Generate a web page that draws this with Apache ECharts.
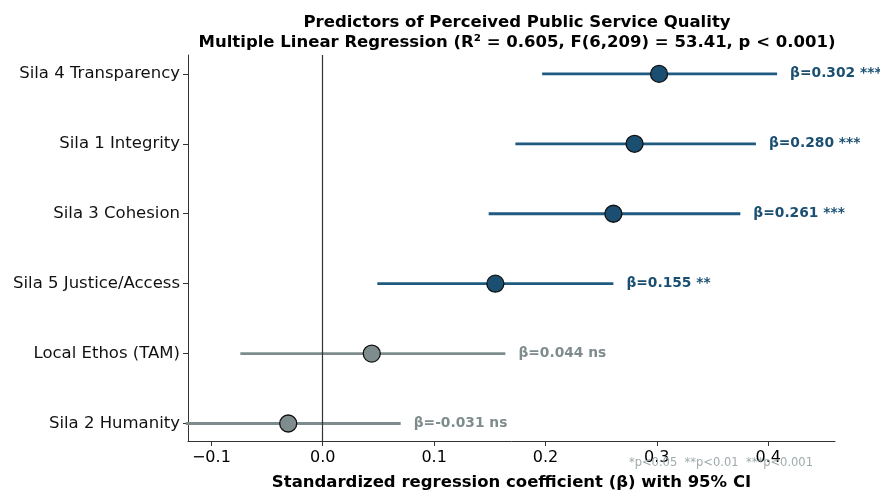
<!DOCTYPE html>
<html>
<head>
<meta charset="utf-8">
<script src="https://cdn.jsdelivr.net/npm/echarts@6/dist/echarts.min.js"></script>
<style>
html, body { margin: 0; padding: 0; background: #fff; }
#chart { width: 880px; height: 492px; }
</style>
</head>
<body>
<div id="chart"></div>
<script>
// rows from bottom (y=0) to top (y=5)
var predictors = ['Sila 2 Humanity', 'Local Ethos (TAM)', 'Sila 5 Justice/Access', 'Sila 3 Cohesion', 'Sila 1 Integrity', 'Sila 4 Transparency'];
var beta = [-0.031, 0.044, 0.155, 0.261, 0.280, 0.302];
var ciLow = [-0.123, -0.074, 0.049, 0.149, 0.173, 0.197];
var ciHigh = [0.070, 0.164, 0.261, 0.375, 0.389, 0.408];
var stars = ['ns', 'ns', '**', '***', '***', '***'];
var xTicks = [-0.1, 0.0, 0.1, 0.2, 0.3, 0.4];

var FONT = 'DejaVu Sans';
var BLUE = '#1b4f72';
var BLUE_LINE = '#1f5a80';
var GREY = '#7f8c8d';

function colorOf(i) { return stars[i] === 'ns' ? GREY : BLUE; }

var rows = predictors.map(function (p, i) {
    return [beta[i], i, ciLow[i], ciHigh[i]];
});

var chart = echarts.init(document.getElementById('chart'));
var option = {
    animation: false,
    title: {
        text: 'Predictors of Perceived Public Service Quality\nMultiple Linear Regression (R² = 0.605, F(6,209) = 53.41, p < 0.001)',
        left: 512,
        top: 8,
        textAlign: 'center',
        textStyle: { fontFamily: FONT, fontSize: 16.5, fontWeight: 'bold', color: '#000', lineHeight: 20 }
    },
    grid: { left: 188, right: 45, top: 55, bottom: 51, outerBoundsMode: 'none', containLabel: false },
    xAxis: {
        type: 'value',
        min: -0.121,
        max: 0.46,
        splitLine: { show: false },
        axisLine: { show: true, onZero: false, lineStyle: { color: '#333', width: 1 } },
        axisTick: { show: true, length: 5, lineStyle: { color: '#333' }, customValues: xTicks },
        axisLabel: {
            fontFamily: FONT, fontSize: 16, color: '#000', margin: 9,
            customValues: xTicks,
            formatter: function (v) { return (v < 0 ? '\u2212' : '') + Math.abs(v).toFixed(1); }
        },
        name: 'Standardized regression coefficient (β) with 95% CI',
        nameLocation: 'middle',
        nameGap: 33,
        nameTextStyle: { fontFamily: FONT, fontSize: 16.5, fontWeight: 'bold', color: '#000' }
    },
    yAxis: {
        type: 'value',
        min: -0.25,
        max: 5.27,
        splitLine: { show: false },
        axisLine: { show: true, onZero: false, lineStyle: { color: '#333', width: 1 } },
        axisTick: { show: true, length: 5, lineStyle: { color: '#333' }, customValues: [0, 1, 2, 3, 4, 5] },
        axisLabel: {
            fontFamily: FONT, fontSize: 16.5, color: '#111', margin: 8,
            customValues: [0, 1, 2, 3, 4, 5],
            formatter: function (v) { return predictors[Math.round(v)]; }
        }
    },
    series: [
        {
            // zero reference line
            type: 'line',
            data: [],
            markLine: {
                silent: true,
                symbol: 'none',
                label: { show: false },
                lineStyle: { color: '#333', width: 1.2, type: 'solid' },
                data: [{ xAxis: 0 }]
            }
        },
        {
            // confidence intervals + beta labels
            type: 'custom',
            data: rows,
            encode: { x: [0, 2, 3], y: 1 },
            renderItem: function (params, api) {
                var i = params.dataIndex;
                var y = api.value(1);
                var a = api.coord([api.value(2), y]);
                var b = api.coord([api.value(3), y]);
                var c = colorOf(i);
                return {
                    type: 'group',
                    children: [
                        {
                            type: 'line',
                            shape: { x1: a[0], y1: a[1], x2: b[0], y2: b[1] },
                            style: { stroke: stars[i] === 'ns' ? GREY : BLUE_LINE, lineWidth: 2.8 }
                        },
                        {
                            type: 'text',
                            x: b[0] + 13,
                            y: b[1],
                            style: {
                                text: 'β=' + beta[i].toFixed(3) + ' ' + stars[i],
                                fill: c,
                                font: 'bold 13.8px "DejaVu Sans"',
                                textVerticalAlign: 'middle'
                            }
                        }
                    ]
                };
            },
            z: 2
        },
        {
            type: 'scatter',
            data: rows.map(function (r, i) {
                return { value: [r[0], r[1]], itemStyle: { color: colorOf(i) } };
            }),
            symbolSize: 17,
            itemStyle: { borderColor: '#111', borderWidth: 1.3, opacity: 1 },
            z: 3
        }
    ],
    graphic: [
        {
            type: 'text',
            right: 67,
            top: 457,
            style: {
                text: '*p<0.05  **p<0.01  ***p<0.001',
                fill: '#a0abac',
                font: '11.5px "DejaVu Sans"'
            },
            z: 10
        }
    ]
};
chart.setOption(option);
</script>
</body>
</html>
